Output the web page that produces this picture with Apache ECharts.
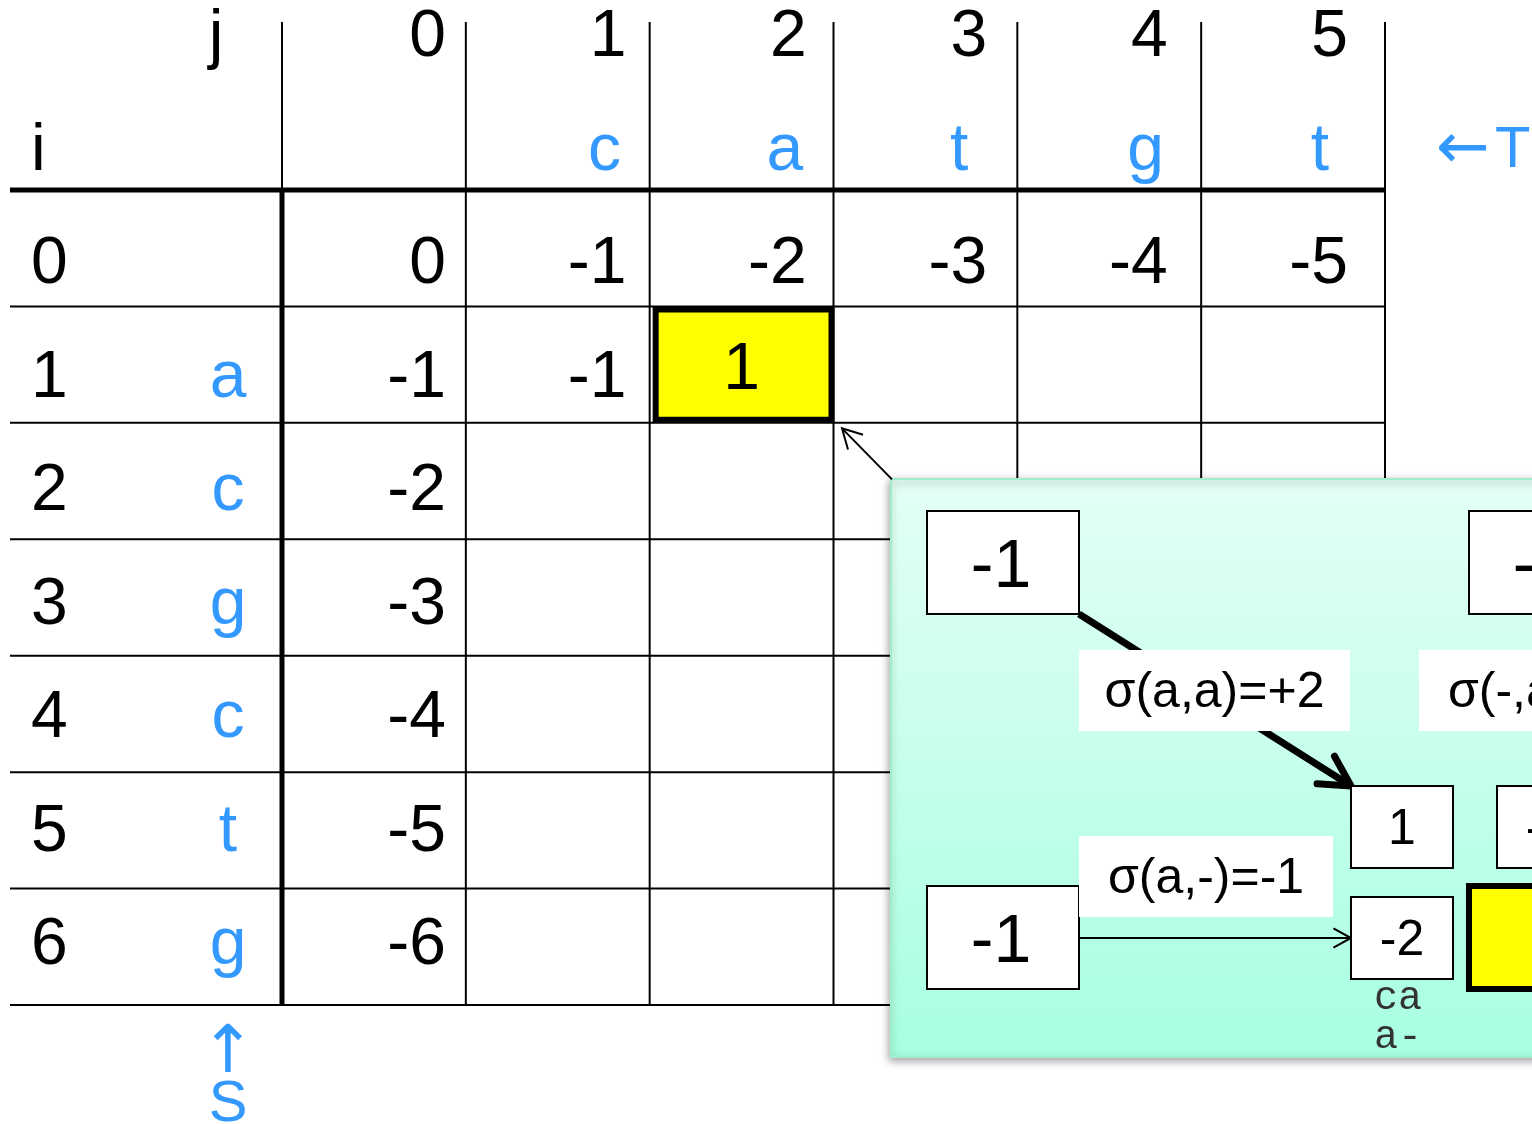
<!DOCTYPE html>
<html><head><meta charset="utf-8">
<script src="https://cdn.jsdelivr.net/npm/echarts@6/dist/echarts.min.js"></script>
<style>html,body{margin:0;padding:0;background:#fff}#c{width:1532px;height:1124px}</style>
</head><body><div id="c"></div>
<script>
// ---------------- data ----------------
const colIndex = ['0', '1', '2', '3', '4', '5'];          // j
const seqT = ['c', 'a', 't', 'g', 't'];                    // T (columns 1..5)
const rowIndex = ['0', '1', '2', '3', '4', '5', '6'];     // i
const seqS = ['a', 'c', 'g', 'c', 't', 'g'];               // S (rows 1..6)
const scoreRow0 = [0, -1, -2, -3, -4, -5];
const scoreRow1 = [-1, -1, 1, null, null, null];
const scoreRow2 = [-2, null, null, null, null, null];
const scoreRow3 = [-3, null, null, null, null, null];
const scoreRow4 = [-4, null, null, null, null, null];
const scoreRow5 = [-5, null, null, null, null, null];
const scoreRow6 = [-6, null, null, null, null, null];
const scores = [scoreRow0, scoreRow1, scoreRow2, scoreRow3, scoreRow4, scoreRow5, scoreRow6];
const currentCell = [1, 2];                                // [i, j] being filled
const sigmaLabels = ['σ(a,a)=+2', 'σ(-,a)=-1', 'σ(a,-)=-1']; // diag, up, left
const candidateScores = [1, -3, -2];                       // diag, up, left
const alignmentLines = ['ca', 'a-'];

// ---------------- styles / layout ----------------
const FONT = '"Liberation Sans", Arial, Helvetica, sans-serif';
const ARROW_FONT = '"DejaVu Sans", "Liberation Sans", sans-serif';
const MONO = '"Liberation Mono", "Courier New", monospace';
const BLUE = '#3399FF';
const MAIN_SIZE = 66;
const TEXT_DY = 5;
const IDX_X = -2.30, SEQ_X = -1.2084, J_X = -1.275;

const chart = echarts.init(document.getElementById('c'), null, { renderer: 'canvas', width: 1532, height: 1124 });

// grid-line items: [kind(0=h,1=v), index]
const lineItems = [];
for (let r = 0; r <= scores.length; r++) lineItems.push([0, r]);
for (let c = 0; c <= colIndex.length; c++) lineItems.push([1, c]);

// text items
const textItems = [];
function addText(x, y, t, align, opts) { textItems.push(Object.assign({ x, y, t, align }, opts || {})); }
addText(J_X, -2, 'j', 'center');
colIndex.forEach((c, j) => addText(j, -2, c, 'right'));
addText(IDX_X, -1, 'i', 'left');
seqT.forEach((ch, k) => addText(k + 1, -1, ch, 'center', { color: BLUE, dx: -22 - (ch === 't' ? 6 : 0) }));
addText(5, -1, '←', 'left', { color: BLUE, dx: 88, size: 64, font: ARROW_FONT });
addText(5, -1, 'T', 'left', { color: BLUE, dx: 147, size: 58 });
rowIndex.forEach((r, i) => {
  addText(IDX_X, i, r, 'left');
  if (i > 0) addText(SEQ_X, i, seqS[i - 1], 'center', { color: BLUE });
  scores[i].forEach((v, j) => {
    if (v !== null && !(i === currentCell[0] && j === currentCell[1])) addText(j, i, String(v), 'right');
  });
});
addText(SEQ_X, 6.96, '↑', 'center', { color: BLUE, size: 66, font: ARROW_FONT });
addText(SEQ_X, 7.40, 'S', 'center', { color: BLUE, size: 58 });

function arrowHead(tip, from, len, ang) {
  const a = Math.atan2(tip[1] - from[1], tip[0] - from[0]);
  return [[tip[0] - len * Math.cos(a - ang), tip[1] - len * Math.sin(a - ang)], tip,
          [tip[0] - len * Math.cos(a + ang), tip[1] - len * Math.sin(a + ang)]];
}

const option = {
  animation: false,
  backgroundColor: '#ffffff',
  grid: [
    { left: 10, top: 22, width: 1375, height: 983, containLabel: false, outerBoundsMode: 'none' },
    { left: 891, top: 479, width: 900, height: 578, containLabel: false, outerBoundsMode: 'none' }
  ],
  xAxis: [
    { type: 'value', gridIndex: 0, min: -1.4796, max: 6, show: false },
    { type: 'value', gridIndex: 0, min: -2.4169, max: 5.2051, show: false },
    { type: 'value', gridIndex: 1, min: -0.06642, max: 1.5941, show: false }
  ],
  yAxis: [
    { type: 'value', gridIndex: 0, min: -1.443, max: 7, inverse: true, show: false },
    { type: 'value', gridIndex: 0, min: -2.0969, max: 6.5639, inverse: true, show: false },
    { type: 'value', gridIndex: 1, min: -0.08533, max: 1.456, inverse: true, show: false }
  ],
  series: [
    { // table lines
      type: 'custom', xAxisIndex: 0, yAxisIndex: 0, z: 2, silent: true,
      data: lineItems,
      renderItem(params, api) {
        const kind = api.value(0), k = api.value(1);
        if (kind === 0) {
          const a = api.coord([-1.4796, k]), b = api.coord([colIndex.length, k]);
          return { type: 'line', shape: { x1: a[0], y1: a[1], x2: b[0], y2: b[1] },
                   style: { stroke: '#000', lineWidth: k === 0 ? 5 : 2 } };
        }
        const top = api.coord([k, -1.443]), mid = api.coord([k, 0]), bot = api.coord([k, scores.length]);
        if (k === 0) {
          return { type: 'group', children: [
            { type: 'line', shape: { x1: top[0], y1: top[1], x2: mid[0], y2: mid[1] }, style: { stroke: '#000', lineWidth: 2 } },
            { type: 'line', shape: { x1: mid[0], y1: mid[1], x2: bot[0], y2: bot[1] }, style: { stroke: '#000', lineWidth: 5 } }
          ] };
        }
        return { type: 'line', shape: { x1: top[0], y1: top[1], x2: bot[0], y2: bot[1] }, style: { stroke: '#000', lineWidth: 2 } };
      }
    },
    { // highlighted current cell
      type: 'custom', xAxisIndex: 0, yAxisIndex: 0, z: 3, silent: true,
      data: [[currentCell[1], currentCell[0], scores[currentCell[0]][currentCell[1]]]],
      renderItem(params, api) {
        const j = api.value(0), i = api.value(1), v = api.value(2);
        const p0 = api.coord([j, i]), p1 = api.coord([j + 1, i + 1]);
        return { type: 'group', children: [
          { type: 'rect', shape: { x: p0[0] + 6, y: p0[1] + 3, width: p1[0] - p0[0] - 8, height: p1[1] - p0[1] - 6 },
            style: { fill: '#FFFF00', stroke: '#000', lineWidth: 6 } },
          { type: 'text', style: { x: (p0[0] + p1[0]) / 2, y: (p0[1] + p1[1]) / 2 + 6, text: String(v), fill: '#000',
            fontSize: MAIN_SIZE, fontFamily: FONT, align: 'center', verticalAlign: 'middle' } }
        ] };
      }
    },
    { // table texts
      type: 'custom', xAxisIndex: 1, yAxisIndex: 1, z: 4, silent: true,
      data: textItems.map(d => [d.x, d.y]),
      renderItem(params, api) {
        const d = textItems[params.dataIndex];
        const p = api.coord([api.value(0), api.value(1)]);
        return { type: 'text', style: { x: p[0] + (d.dx || 0), y: p[1] + TEXT_DY, text: d.t, fill: d.color || '#000',
          fontSize: d.size || MAIN_SIZE, fontFamily: d.font || FONT, align: d.align, verticalAlign: 'middle' } };
      }
    },
    { // zoomed inset
      type: 'custom', xAxisIndex: 2, yAxisIndex: 2, z: 10, silent: true,
      data: [[0, 0]],
      renderItem(params, api) {
        const cs = params.coordSys;
        const ch = [];
        const BW = 152, BH = 103, SW = 102, SH = 82, LH = 81;
        ch.push({ type: 'rect', shape: { x: cs.x, y: cs.y, width: cs.width, height: cs.height },
          style: { fill: new echarts.graphic.LinearGradient(0, 0, 0, 1, [{ offset: 0, color: '#E4FFF5' }, { offset: 1, color: '#A7FFE0' }]),
                   stroke: '#9DEFCB', lineWidth: 2, shadowBlur: 8, shadowColor: 'rgba(0,0,0,0.35)', shadowOffsetX: -1, shadowOffsetY: 3 } });
        const ci = currentCell[0], cj = currentCell[1];
        const TL = api.coord([0, 0]), TR = api.coord([1, 0]), BL = api.coord([0, 1]), BR = api.coord([1, 1]);
        const cand = [[BR[0] - 118, BR[1] - 100], [BR[0] + 28, BR[1] - 100], [BR[0] - 118, BR[1] + 11]];
        const dFrom = [TL[0] + BW, TL[1] + BH], dTo = cand[0];
        ch.push({ type: 'line', shape: { x1: dFrom[0], y1: dFrom[1], x2: dTo[0], y2: dTo[1] }, style: { stroke: '#000', lineWidth: 7 } });
        ch.push({ type: 'polyline', shape: { points: arrowHead(dTo, dFrom, 34, 0.5) }, style: { stroke: '#000', fill: null, lineWidth: 7, lineCap: 'round', lineJoin: 'round' } });
        const uFrom = [cand[1][0] + SW / 2, TR[1] + BH], uTo = [cand[1][0] + SW / 2, cand[1][1]];
        ch.push({ type: 'line', shape: { x1: uFrom[0], y1: uFrom[1], x2: uTo[0], y2: uTo[1] }, style: { stroke: '#000', lineWidth: 2 } });
        const lFrom = [BL[0] + BW, cand[2][1] + SH / 2], lTo = [cand[2][0], cand[2][1] + SH / 2];
        ch.push({ type: 'line', shape: { x1: lFrom[0], y1: lFrom[1], x2: lTo[0], y2: lTo[1] }, style: { stroke: '#000', lineWidth: 2 } });
        ch.push({ type: 'polyline', shape: { points: arrowHead(lTo, lFrom, 20, 0.5) }, style: { stroke: '#000', fill: null, lineWidth: 2 } });
        [[0, 0], [1, 0], [0, 1], [1, 1]].forEach(([c, r]) => {
          const p = api.coord([c, r]);
          const isCur = (r === 1 && c === 1);
          const v = scores[ci - 1 + r][cj - 1 + c];
          ch.push({ type: 'rect', shape: { x: p[0], y: p[1], width: BW, height: BH },
            style: { fill: isCur ? '#FFFF00' : '#fff', stroke: '#000', lineWidth: isCur ? 6 : 2 } });
          if (!isCur) ch.push({ type: 'text', style: { x: p[0] + BW / 2 - 2, y: p[1] + BH / 2 + 6, text: String(v), fill: '#000',
            fontSize: 68, fontFamily: FONT, align: 'center', verticalAlign: 'middle' } });
        });
        cand.forEach((p, k) => {
          ch.push({ type: 'rect', shape: { x: p[0], y: p[1], width: SW, height: SH }, style: { fill: '#fff', stroke: '#000', lineWidth: 2 } });
          ch.push({ type: 'text', style: { x: p[0] + SW / 2, y: p[1] + SH / 2 + 3, text: String(candidateScores[k]), fill: '#000',
            fontSize: 50, fontFamily: FONT, align: 'center', verticalAlign: 'middle' } });
        });
        const lab = [[TL[0] + BW, TL[1] + 139, 271], [TR[0] - 50, TR[1] + 139, 254], [BL[0] + BW, BL[1] - 50, 254]];
        lab.forEach((l, k) => {
          ch.push({ type: 'rect', shape: { x: l[0], y: l[1], width: l[2], height: LH }, style: { fill: '#fff' } });
          ch.push({ type: 'text', style: { x: l[0] + l[2] / 2, y: l[1] + LH / 2 + 3, text: sigmaLabels[k], fill: '#000',
            fontSize: 50, fontFamily: FONT, align: 'center', verticalAlign: 'middle' } });
        });
        alignmentLines.forEach((s, k) => {
          ch.push({ type: 'text', style: { x: cand[2][0] + SW / 2 - 4, y: cand[2][1] + SH + 19 + 39 * k, text: s, fill: '#333',
            fontSize: 40, fontFamily: MONO, align: 'center', verticalAlign: 'middle' } });
        });
        return { type: 'group', children: ch };
      }
    },
    { // pointer from inset to current cell
      type: 'custom', xAxisIndex: 0, yAxisIndex: 0, z: 11, silent: true,
      data: [[currentCell[1] + 1, currentCell[0] + 1]],
      renderItem(params, api) {
        const c = api.coord([api.value(0), api.value(1)]);
        const tip = [c[0] + 8.5, c[1] + 5.5], from = [tip[0] + 50, tip[1] + 51];
        return { type: 'group', children: [
          { type: 'line', shape: { x1: from[0], y1: from[1], x2: tip[0], y2: tip[1] }, style: { stroke: '#000', lineWidth: 2 } },
          { type: 'polyline', shape: { points: arrowHead(tip, from, 22, 0.5) }, style: { stroke: '#000', fill: null, lineWidth: 2 } }
        ] };
      }
    }
  ]
};
chart.setOption(option);
</script>
</body></html>
